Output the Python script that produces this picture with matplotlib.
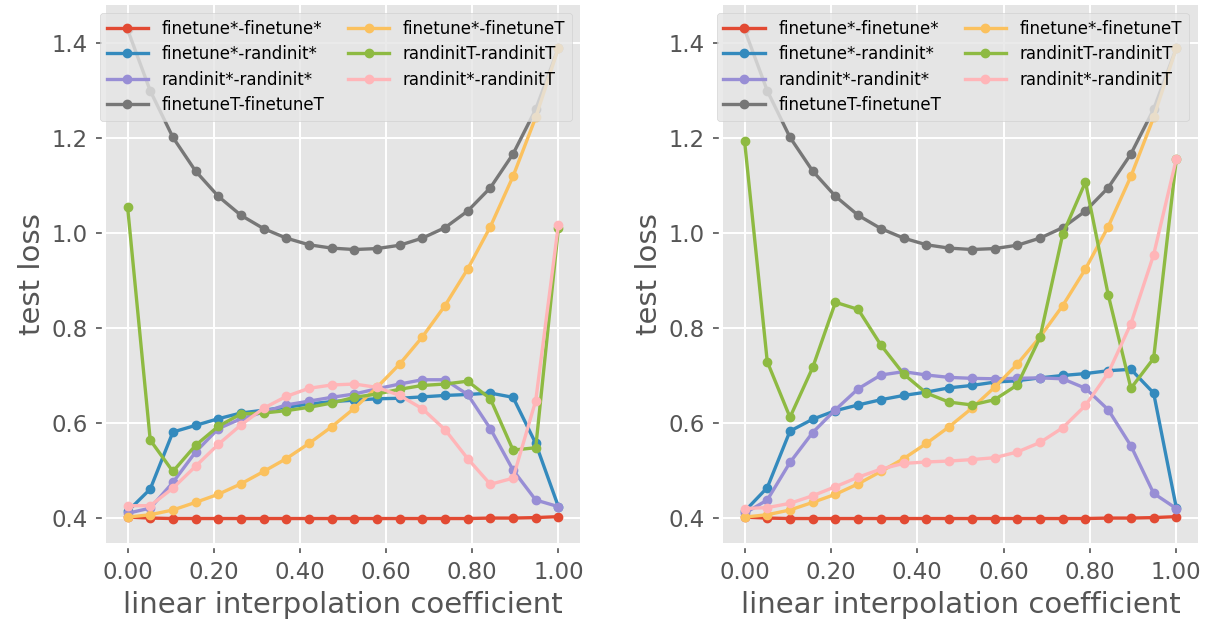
import numpy as np
import matplotlib
matplotlib.use('Agg')
import matplotlib.pyplot as plt
from matplotlib.ticker import FormatStrFormatter

plt.style.use('ggplot')

# interpolation coefficient, 20 points from 0 to 1
coef = np.linspace(0, 1, 20)

labels = ['finetune*-finetune*', 'finetune*-randinit*', 'randinit*-randinit*',
          'finetuneT-finetuneT', 'finetune*-finetuneT', 'randinitT-randinitT',
          'randinit*-randinitT']

# shared curves (same in both panels)
ft_ft = [0.402, 0.400, 0.399, 0.399, 0.399, 0.399, 0.399, 0.399, 0.399, 0.399,
         0.399, 0.399, 0.399, 0.399, 0.399, 0.399, 0.400, 0.400, 0.401, 0.403]
ftT_ftT = [1.428, 1.299, 1.201, 1.130, 1.077, 1.037, 1.009, 0.989, 0.975, 0.968,
           0.965, 0.967, 0.974, 0.989, 1.011, 1.046, 1.095, 1.166, 1.260, 1.389]
ft_ftT = [0.402, 0.407, 0.417, 0.433, 0.450, 0.472, 0.498, 0.525, 0.557, 0.592,
          0.631, 0.675, 0.724, 0.781, 0.847, 0.924, 1.013, 1.119, 1.243, 1.389]

# left panel
left_ft_ri = [0.414, 0.461, 0.581, 0.595, 0.609, 0.621, 0.627, 0.633, 0.640, 0.645,
              0.648, 0.651, 0.652, 0.655, 0.658, 0.660, 0.663, 0.654, 0.557, 0.424]
left_ri_ri = [0.410, 0.421, 0.475, 0.539, 0.588, 0.609, 0.623, 0.638, 0.646, 0.654,
              0.661, 0.672, 0.682, 0.691, 0.691, 0.660, 0.588, 0.501, 0.438, 0.424]
left_riT_riT = [1.055, 0.564, 0.498, 0.553, 0.593, 0.619, 0.621, 0.626, 0.633, 0.642,
                0.654, 0.661, 0.671, 0.679, 0.682, 0.688, 0.651, 0.543, 0.548, 1.010]
left_ri_riT = [0.426, 0.426, 0.463, 0.509, 0.555, 0.596, 0.631, 0.656, 0.673, 0.680,
               0.682, 0.675, 0.658, 0.630, 0.586, 0.525, 0.471, 0.484, 0.647, 1.017]

# right panel
right_ft_ri = [0.414, 0.464, 0.583, 0.608, 0.626, 0.638, 0.649, 0.658, 0.665, 0.674,
               0.679, 0.686, 0.689, 0.695, 0.700, 0.704, 0.710, 0.713, 0.663, 0.421]
right_ri_ri = [0.410, 0.438, 0.517, 0.580, 0.628, 0.672, 0.701, 0.708, 0.701, 0.696,
               0.694, 0.693, 0.694, 0.695, 0.693, 0.673, 0.628, 0.552, 0.452, 0.420]
right_riT_riT = [1.194, 0.729, 0.612, 0.717, 0.854, 0.839, 0.764, 0.703, 0.663, 0.644,
                 0.638, 0.649, 0.680, 0.780, 0.997, 1.107, 0.870, 0.673, 0.736, 1.156]
right_ri_riT = [0.420, 0.422, 0.431, 0.447, 0.466, 0.486, 0.503, 0.515, 0.518, 0.520,
                0.523, 0.527, 0.539, 0.559, 0.590, 0.637, 0.705, 0.809, 0.954, 1.156]

panels = [
    [ft_ft, left_ft_ri, left_ri_ri, ftT_ftT, ft_ftT, left_riT_riT, left_ri_riT],
    [ft_ft, right_ft_ri, right_ri_ri, ftT_ftT, ft_ftT, right_riT_riT, right_ri_riT],
]

fig = plt.figure(figsize=(12.13, 6.26), dpi=100)
ax_pos = [[0.0874, 0.1326, 0.3907, 0.8594], [0.5960, 0.1326, 0.3916, 0.8594]]

for pos, curves in zip(ax_pos, panels):
    ax = fig.add_axes(pos)
    for lab, vals in zip(labels, curves):
        ax.plot(coef, vals, marker='o', lw=2.4, ms=6, label=lab)

    ax.set_xticks([0, 0.2, 0.4, 0.6, 0.8, 1.0])
    ax.set_yticks([0.4, 0.6, 0.8, 1.0, 1.2, 1.4])
    ax.xaxis.set_major_formatter(FormatStrFormatter('%.2f'))
    ax.yaxis.set_major_formatter(FormatStrFormatter('%.1f'))
    for sp in ax.spines.values():
        sp.set_position(('outward', 3))
    ax.tick_params(labelsize=16.4, length=4, width=1.2, pad=6)
    ax.set_xlabel('linear interpolation coefficient', fontsize=21, labelpad=5)
    ax.set_ylabel('test loss', fontsize=21)
    ax.grid(True, color='white', lw=1.4)

    ax.legend(ncol=2, loc='upper left', bbox_to_anchor=(-0.013, 0.985),
              borderaxespad=0, fontsize=12, handlelength=2.5,
              columnspacing=1.4, labelspacing=0.45)

fig.savefig('out.png', dpi=100)
